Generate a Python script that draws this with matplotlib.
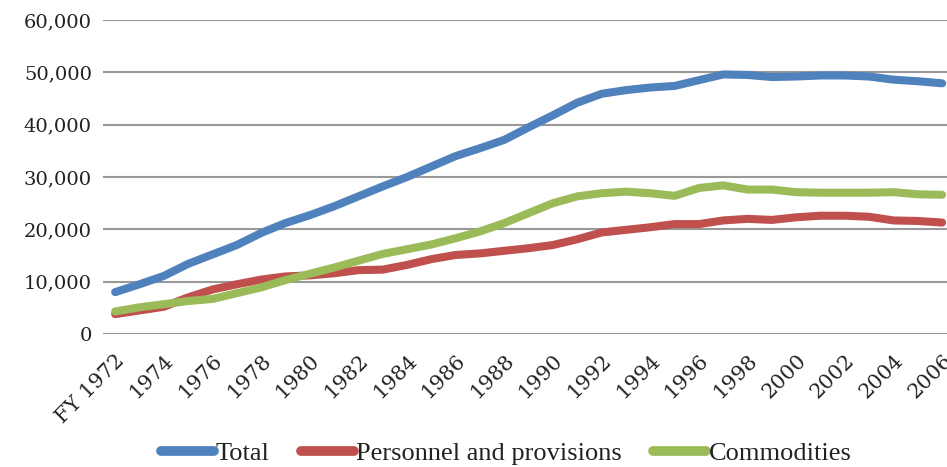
import matplotlib
matplotlib.use("Agg")
import matplotlib.pyplot as plt
from matplotlib.ticker import FuncFormatter
from matplotlib.transforms import ScaledTranslation

years = list(range(1972, 2007))
total = [8000, 9500, 11100, 13400, 15200, 17000, 19300, 21200, 22700, 24400,
         26300, 28200, 30000, 32000, 34000, 35500, 37100, 39500, 41800, 44200,
         45900, 46600, 47100, 47400, 48500, 49600, 49500, 49100, 49200, 49400,
         49400, 49200, 48600, 48300, 47900]
personnel = [3800, 4500, 5200, 7000, 8500, 9500, 10400, 11000, 11200, 11600,
             12200, 12300, 13200, 14300, 15100, 15400, 15900, 16400, 17000, 18100,
             19400, 19900, 20400, 21000, 21000, 21700, 22000, 21800, 22300, 22600,
             22600, 22400, 21700, 21600, 21300]
commodities = [4300, 5100, 5700, 6300, 6700, 7800, 8900, 10300, 11500, 12700,
               14000, 15300, 16200, 17100, 18300, 19600, 21200, 23100, 25000, 26300,
               26900, 27200, 26900, 26400, 27900, 28400, 27600, 27600, 27100, 27000,
               27000, 27000, 27100, 26700, 26600]
series_names = ["Total", "Personnel and provisions", "Commodities"]
colors = ["#4F81BD", "#C0504D", "#9BBB59"]
tick_years = list(range(1972, 2007, 2))
tick_labels = ["FY 1972"] + [str(y) for y in tick_years[1:]]

fig = plt.figure(figsize=(9.47, 4.67), dpi=100)
ax = fig.add_axes([103/947, 1-334/467, 1-103/947, (334-20)/467])
font = "DejaVu Serif"

for vals, name, c in zip([total, personnel, commodities], series_names, colors):
    ax.plot(years, vals, color=c, lw=5.8, label=name, solid_capstyle="round",
            solid_joinstyle="round", zorder=3)

ax.set_ylim(0, 60000)
ax.set_xlim(1971.5, 2006.2)
ax.set_yticks(range(0, 60001, 10000))
ax.yaxis.set_major_formatter(FuncFormatter(lambda v, p: f"{int(v):,}"))
ax.set_xticks(tick_years)
ax.set_xticklabels(tick_labels, rotation=45, ha="right", va="top",
                   rotation_mode="anchor")
for lab in ax.get_yticklabels():
    lab.set_fontfamily(font)
    lab.set_fontsize(14)
    lab.set_color("#222222")
offset = ScaledTranslation(-4/100, 0, fig.dpi_scale_trans)
for lab in ax.get_xticklabels():
    lab.set_fontfamily(font)
    lab.set_fontsize(15)
    lab.set_color("#222222")
    lab.set_transform(lab.get_transform() + offset)
ax.tick_params(axis="both", length=0)
ax.tick_params(axis="y", pad=8)
ax.tick_params(axis="x", pad=12)
ax.grid(axis="y", color="#999999", lw=1.5, zorder=0)
for s in ax.spines.values():
    s.set_visible(False)

leg = fig.legend(loc="center", bbox_to_anchor=(506/947, 1-453/467), ncol=3,
                 frameon=False, handlelength=2.0, handletextpad=0.08,
                 columnspacing=1.2, prop={"family": "Liberation Serif", "size": 19})
for t in leg.get_texts():
    t.set_color("#222222")
for h in leg.legend_handles:
    h.set_linewidth(7)

fig.savefig("out.png", dpi=100)
